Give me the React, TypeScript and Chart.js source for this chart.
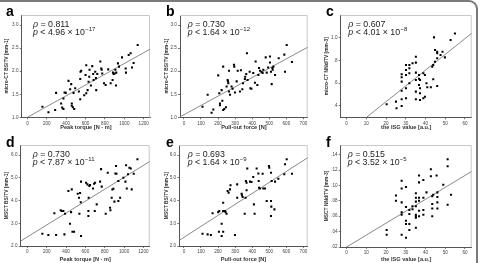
import React, { useEffect, useRef } from "react";
import { Chart, registerables } from "chart.js";
Chart.register(...registerables);

// ---------- data ----------
const aTorque = [155,217,286,296,348,359,372,372,383,396,424,441,452,458,458,469,476,483,493,531,545,548,555,545,586,607,607,621,631,638,641,655,669,679,683,700,707,710,721,752,762,766,772,790,807,834,859,879,883,890,900,914,917,934,945,976,1014,1017,1045,1065,1079,1096,1138,907,600];
const aBSTV = [1.23,1.11,1.16,1.53,1.30,1.21,1.18,1.41,1.54,1.53,1.79,1.61,1.72,1.30,1.25,1.22,1.53,1.18,1.63,1.56,1.83,1.99,2.01,1.39,1.48,1.52,2.13,1.59,1.77,1.88,2.03,1.69,2.11,1.94,1.81,1.99,1.85,1.59,1.94,2.21,2.06,2.03,1.95,1.74,1.70,2.04,1.74,1.81,1.97,1.94,1.95,1.69,1.97,2.17,2.10,2.30,2.06,1.97,2.35,2.39,2.08,2.18,2.57,2.03,1.92];

const bForce = [109,139,162,172,201,207,211,211,221,225,230,230,236,246,250,256,258,260,264,264,270,279,285,293,295,299,309,315,328,334,342,346,357,359,365,369,373,385,389,395,406,416,420,430,436,440,446,455,461,465,479,485,493,504,504,510,514,518,520,524,534,555,588,592,602,633];
const bBSTV = [1.23,1.49,1.10,1.17,1.91,1.52,1.30,1.26,1.59,1.36,2.10,1.16,1.18,1.22,1.67,1.81,1.78,1.74,2.01,1.56,1.49,1.67,1.62,2.14,2.10,1.54,1.78,2.01,1.56,2.02,1.61,1.74,1.83,1.88,1.94,2.39,1.81,1.99,1.63,1.62,1.96,1.75,2.21,1.70,1.92,2.07,2.01,1.99,1.96,2.03,2.30,1.97,2.08,2.32,2.19,1.99,1.72,2.07,2.03,2.10,1.92,2.28,2.36,1.99,2.57,2.20];

const cISG = [20.3,25,25.3,27.9,27.9,27.9,27.9,27.9,27.9,30.1,30.1,30.1,30.1,30.1,31.8,31.8,31.8,31.8,33.4,35.1,35.1,35.1,35.1,35.1,35.1,36.7,36.7,36.7,37.2,37.2,37.2,37.2,38.9,38.9,39.7,40.9,42.7,43.4,43.9,43.9,44.3,44.8,44.8,45.9,45.9,45.9,45.9,47.6,48.6,49.8,52.7,54.9,40.5,39.7];
const cNNdTV = [0.414,0.438,0.379,0.678,0.652,0.614,0.534,0.458,0.400,0.760,0.716,0.672,0.555,0.467,0.760,0.731,0.687,0.599,0.775,0.833,0.781,0.693,0.628,0.526,0.458,0.672,0.640,0.584,0.628,0.555,0.511,0.452,0.687,0.467,0.672,0.564,0.564,0.745,0.760,0.634,1.003,0.892,0.789,0.877,0.863,0.819,0.575,0.848,0.877,0.827,0.980,1.038,0.600,0.480];

const dTorque = [155,217,297,279,345,355,372,390,383,424,441,459,452,466,483,521,534,545,538,552,555,555,607,621,631,631,634,641,648,679,690,700,697,717,752,762,769,810,831,855,859,872,879,890,900,917,910,921,941,941,959,993,1014,1021,1028,1041,1055,1069,1079,1100,1138];
const dBSTV = [2.54,2.48,2.48,3.44,3.57,3.54,3.54,3.42,2.51,4.42,2.98,4.49,3.49,2.63,2.63,4.30,4.12,4.33,3.42,3.92,4.83,2.44,4.78,4.71,3.54,3.32,4.12,4.64,4.68,4.53,4.74,4.78,3.54,3.83,4.83,5.38,4.61,3.42,5.22,3.68,3.57,4.12,4.48,4.52,3.95,5.52,5.19,5.18,3.98,4.86,4.12,5.0,4.83,5.55,4.53,5.15,5.44,5.41,4.49,5.18,5.81];

const eForce = [109,139,158,168,201,207,205,221,221,230,230,230,240,244,250,256,262,270,273,299,312,312,338,340,344,356,361,363,367,367,371,387,396,406,410,414,426,436,438,440,446,461,465,475,485,498,500,510,510,514,512,510,530,553,588,592,602,633,534];
const eBSTV = [2.54,2.51,2.48,3.44,3.49,3.54,2.63,2.98,2.44,2.63,3.54,3.90,3.54,3.49,3.42,4.42,4.34,4.49,4.67,2.48,4.71,4.12,4.30,4.23,4.15,3.42,4.12,4.86,4.78,4.45,5.41,4.83,4.81,5.03,3.83,3.42,5.41,5.19,4.86,4.56,4.53,5.18,4.53,4.53,3.98,5.52,5.44,5.22,3.98,4.86,3.73,3.32,3.61,4.96,5.15,5.59,5.81,5.18,4.83];

const fISG = [20.3,20.3,25,25,27.9,27.9,27.9,27.9,27.9,27.9,30.1,30.1,30.1,30.1,30.1,31.8,31.8,31.8,31.8,33.4,33.4,35.1,35.1,35.1,35.1,35.1,35.1,35.1,35.1,36.7,36.7,36.7,36.7,36.7,36.7,38.9,38.9,38.9,38.9,40.5,42.7,42.7,43.4,43.4,43.4,43.4,43.9,45.6,46,46,46,46,49,51.2,51.2,51.2,52.9];
const fNNdTV = [0.042,0.036,0.087,0.080,0.106,0.096,0.078,0.065,0.062,0.036,0.098,0.072,0.054,0.050,0.032,0.068,0.063,0.050,0.042,0.073,0.069,0.090,0.084,0.079,0.073,0.062,0.060,0.058,0.045,0.113,0.104,0.084,0.080,0.067,0.060,0.107,0.084,0.068,0.062,0.091,0.121,0.112,0.086,0.076,0.070,0.060,0.088,0.113,0.091,0.085,0.078,0.070,0.101,0.134,0.125,0.075,0.088];

// regression lines: [intercept, slope]
const regA = [1.0, 0.001168];
const regB = [1.056, 0.00202];
const regC = [0.16, 0.01387];
const regD = [2.40, 0.00262];
const regE = [2.38, 0.00483];
const regF = [0.02, 0.00155];

const rhoLabels = ["0.811", "0.730", "0.607", "0.730", "0.693", "0.515"];
const pMantissa = ["4.96", "1.64", "4.01", "7.87", "1.64", "3.52"];
const pExponent = ["−17", "−12", "−8", "−11", "−9", "−5"];

const torqueTicks = [0, 200, 400, 600, 800, 1000, 1200];
const forceTicks = [0, 100, 200, 300, 400, 500, 600, 700];
const isgTicks = [0, 10, 20, 30, 40, 50, 60];
const bstvMicroTicks = [1.0, 1.5, 2.0, 2.5, 3.0];
const nndMicroTicks = [0.4, 0.6, 0.8, 1.0];
const bstvMsctTicks = [2.0, 3.0, 4.0, 5.0, 6.0];
const nndMsctTicks = [0.02, 0.04, 0.06, 0.08, 0.10, 0.12, 0.14];

const FONT = '"Liberation Sans", Arial, sans-serif';

const fmt1 = (v: number) => v.toFixed(1);
const fmtDot1 = (v: number) => (v >= 1 ? v.toFixed(1) : v.toFixed(1).replace(/^0/, ""));
const fmtDot2 = (v: number) => v.toFixed(2).replace(/^0/, "");
const fmt0 = (v: number) => String(Math.round(v));

type PanelCfg = {
  letter: string;
  left: number; top: number; w: number; h: number;
  area: { l: number; t: number; r: number; b: number };
  xs: number[]; ys: number[]; reg: number[];
  xRange: [number, number]; yRange: [number, number];
  xTicks: number[]; yTicks: number[];
  yFmt: (v: number) => string;
  xTitle: string; yTitle: string;
  idx: number;
  textX: number; textY1: number; textY2: number;
};

const panels: PanelCfg[] = [
  { letter: "a", left: 0, top: 0, w: 160, h: 131, area: { l: 21.7, t: 15, r: 150, b: 117.3 },
    xs: aTorque, ys: aBSTV, reg: regA, xRange: [-59, 1265], yRange: [1.0, 3.22],
    xTicks: torqueTicks, yTicks: bstvMicroTicks, yFmt: fmt1,
    xTitle: "Peak torque [N · m]", yTitle: "micro-CT BS/TV [mm-1]", idx: 0, textX: 33, textY1: 24.5, textY2: 33 },
  { letter: "b", left: 160, top: 0, w: 160, h: 131, area: { l: 20, t: 15, r: 147.7, b: 117.3 },
    xs: bForce, ys: bBSTV, reg: regB, xRange: [-23, 725], yRange: [1.0, 3.22],
    xTicks: forceTicks, yTicks: bstvMicroTicks, yFmt: fmt1,
    xTitle: "Pull-out force [N]", yTitle: "micro-CT BS/TV [mm-1]", idx: 1, textX: 27.7, textY1: 24.5, textY2: 33 },
  { letter: "c", left: 320, top: 0, w: 161, h: 131, area: { l: 20.7, t: 15, r: 151.7, b: 117.3 },
    xs: cISG, ys: cNNdTV, reg: regC, xRange: [-3, 63.4], yRange: [0.3, 1.2],
    xTicks: isgTicks, yTicks: nndMicroTicks, yFmt: fmtDot1,
    xTitle: "the ISG value [a.u.]", yTitle: "micro-CT NNd/TV [mm-3]", idx: 2, textX: 28.3, textY1: 24.5, textY2: 33 },
  { letter: "d", left: 0, top: 131, w: 160, h: 132, area: { l: 20.7, t: 14, r: 149.7, b: 115 },
    xs: dTorque, ys: dBSTV, reg: regD, xRange: [-69, 1265], yRange: [2.0, 6.44],
    xTicks: torqueTicks, yTicks: bstvMsctTicks, yFmt: fmt1,
    xTitle: "Peak torque [N · m]", yTitle: "MSCT BS/TV [mm-1]", idx: 3, textX: 32.7, textY1: 23.3, textY2: 32 },
  { letter: "e", left: 160, top: 131, w: 160, h: 132, area: { l: 19.3, t: 14, r: 147.7, b: 115 },
    xs: eForce, ys: eBSTV, reg: regE, xRange: [-27, 725], yRange: [2.0, 6.44],
    xTicks: forceTicks, yTicks: bstvMsctTicks, yFmt: fmt1,
    xTitle: "Pull-out force [N]", yTitle: "MSCT BS/TV [mm-1]", idx: 4, textX: 27.7, textY1: 23.3, textY2: 32 },
  { letter: "f", left: 320, top: 131, w: 161, h: 132, area: { l: 20.7, t: 14, r: 151.7, b: 116 },
    xs: fISG, ys: fNNdTV, reg: regF, xRange: [-3, 63.4], yRange: [0.02, 0.1526],
    xTicks: isgTicks, yTicks: nndMsctTicks, yFmt: fmtDot2,
    xTitle: "the ISG value [a.u.]", yTitle: "MSCT NNd/TV [mm-3]", idx: 5, textX: 27.7, textY1: 23.3, textY2: 32 },
];

function Panel({ cfg }: { cfg: PanelCfg }) {
  const ref = useRef<HTMLCanvasElement>(null);
  useEffect(() => {
    const [x0, x1] = cfg.xRange;
    const [b0, m] = cfg.reg;
    const points = cfg.xs.map((x, i) => ({ x, y: cfg.ys[i] }));
    const line = [{ x: x0, y: b0 + m * x0 }, { x: x1, y: b0 + m * x1 }];

    const decor = {
      id: "decor" + cfg.idx,
      beforeDatasetsDraw(chart: any) {
        const { ctx, chartArea: ca } = chart;
        ctx.save();
        ctx.strokeStyle = "#c8c8c8";
        ctx.lineWidth = 1;
        ctx.beginPath();
        ctx.moveTo(ca.left, ca.top + 0.5);
        ctx.lineTo(ca.right - 0.5, ca.top + 0.5);
        ctx.lineTo(ca.right - 0.5, ca.bottom);
        ctx.stroke();
        ctx.restore();
      },
      afterDraw(chart: any) {
        const { ctx } = chart;
        ctx.save();
        ctx.fillStyle = "#000";
        ctx.textBaseline = "alphabetic";
        ctx.font = `bold 14px ${FONT}`;
        ctx.fillText(cfg.letter, 6, 16);

        ctx.fillStyle = "#222";
        ctx.textBaseline = "middle";
        const fs = 8.8;
        let x = cfg.textX;
        ctx.font = `italic ${fs}px ${FONT}`;
        ctx.fillText("ρ", x, cfg.textY1);
        x += ctx.measureText("ρ").width;
        ctx.font = `${fs}px ${FONT}`;
        ctx.fillText(" = " + rhoLabels[cfg.idx], x, cfg.textY1);

        x = cfg.textX;
        ctx.font = `italic ${fs}px ${FONT}`;
        ctx.fillText("p", x, cfg.textY2);
        x += ctx.measureText("p").width;
        ctx.font = `${fs}px ${FONT}`;
        const main = " < " + pMantissa[cfg.idx] + " × 10";
        ctx.fillText(main, x, cfg.textY2);
        x += ctx.measureText(main).width;
        ctx.font = `${fs * 0.68}px ${FONT}`;
        ctx.fillText(pExponent[cfg.idx], x + 0.3, cfg.textY2 - 3.3);
        ctx.restore();
      },
    };

    const tickFont = { family: FONT, size: 4.6 };
    const chart = new Chart(ref.current as HTMLCanvasElement, {
      type: "scatter",
      data: {
        datasets: [
          {
            data: line,
            showLine: true,
            borderColor: "#8a8a8a",
            borderWidth: 1,
            pointRadius: 0,
            order: 2,
          } as any,
          {
            data: points,
            backgroundColor: "#000",
            borderColor: "#000",
            borderWidth: 0,
            pointStyle: "rect",
            pointRadius: 1.45,
            order: 1,
          } as any,
        ],
      },
      options: {
        animation: false,
        responsive: false,
        events: [],
        layout: { padding: { top: cfg.area.t, right: cfg.w - cfg.area.r, left: 0, bottom: 0 } },
        plugins: { legend: { display: false }, tooltip: { enabled: false } },
        scales: {
          x: {
            type: "linear",
            min: x0,
            max: x1,
            afterBuildTicks: (s: any) => { s.ticks = cfg.xTicks.map((v) => ({ value: v })); },
            afterFit: (s: any) => { s.height = cfg.h - cfg.area.b; },
            grid: { drawOnChartArea: false, drawTicks: true, tickLength: 2, color: "#555", lineWidth: 0.8 },
            border: { color: "#555", width: 1 },
            ticks: { font: tickFont, color: "#444", padding: 1.2, autoSkip: false, maxRotation: 0, callback: (v: any) => fmt0(Number(v)) },
            title: { display: true, text: cfg.xTitle, font: { family: FONT, size: 5.6, weight: "bold" }, color: "#333", padding: { top: 0, bottom: 0.6 } },
          },
          y: {
            type: "linear",
            min: cfg.yRange[0],
            max: cfg.yRange[1],
            afterBuildTicks: (s: any) => { s.ticks = cfg.yTicks.map((v) => ({ value: v })); },
            afterFit: (s: any) => { s.width = cfg.area.l; },
            grid: { drawOnChartArea: false, drawTicks: true, tickLength: 2, color: "#555", lineWidth: 0.8 },
            border: { color: "#555", width: 1 },
            ticks: { font: tickFont, color: "#444", padding: 1.2, autoSkip: false, callback: (v: any) => cfg.yFmt(Number(v)) },
            title: { display: true, text: cfg.yTitle, font: { family: FONT, size: 4.9, weight: "bold" }, color: "#333", padding: { top: 4, bottom: 0 } },
          },
        },
      } as any,
      plugins: [decor],
    });
    return () => chart.destroy();
  }, []);
  return (
    <canvas
      ref={ref}
      width={cfg.w}
      height={cfg.h}
      style={{ position: "absolute", left: cfg.left, top: cfg.top, width: cfg.w, height: cfg.h }}
    />
  );
}

export default function App() {
  return (
    <div style={{ position: "fixed", left: 0, top: 0, width: 481, height: 263, background: "#fff", overflow: "hidden" }}>
      {panels.map((p) => (
        <Panel key={p.letter} cfg={p} />
      ))}
      <div
        style={{
          position: "absolute",
          left: -20,
          top: 0,
          width: 478 + 20,
          height: 320,
          boxSizing: "border-box",
          borderTop: "2px solid #7a7a7a",
          borderRight: "2px solid #7a7a7a",
          borderTopRightRadius: 9,
          pointerEvents: "none",
        }}
      />
    </div>
  );
}
